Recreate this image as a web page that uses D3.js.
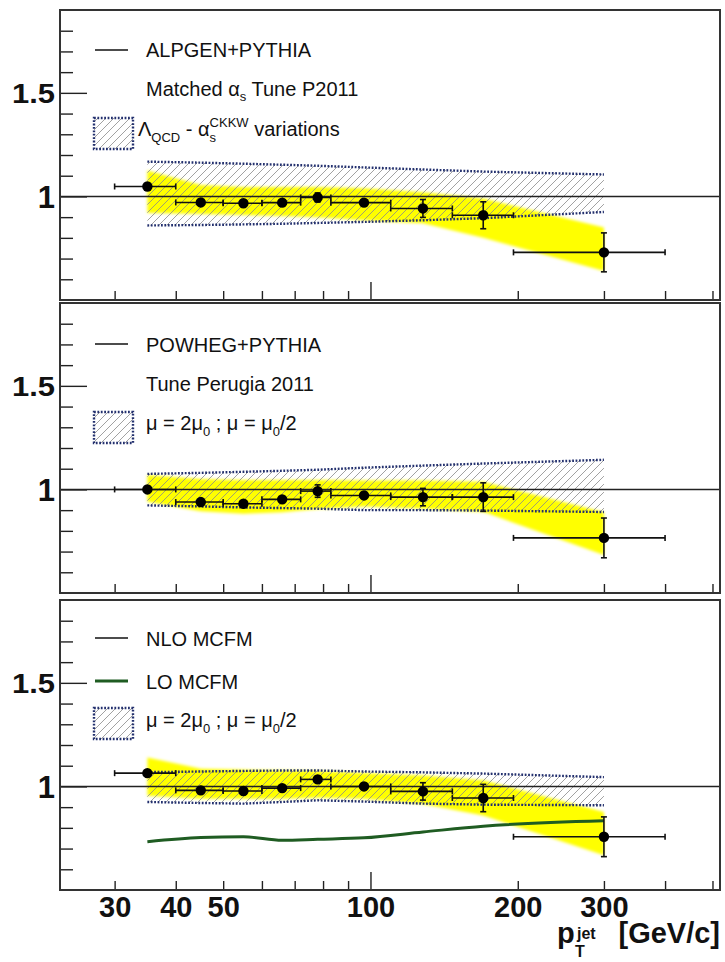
<!DOCTYPE html>
<html>
<head>
<meta charset="utf-8">
<script src="https://cdn.jsdelivr.net/npm/d3@7/dist/d3.min.js"></script>
<style>
  body { margin: 0; background: #fff; }
  svg { display: block; font-family: "Liberation Sans", Arial, sans-serif; }
</style>
</head>
<body>
<svg id="chart"></svg>
<script>
// bins in pT (GeV/c)
const ptCenter = [35, 45, 55, 66, 78, 97, 128, 170, 300];
const ptLow    = [30, 40, 50, 60, 72, 83, 110, 147, 196];
const ptHigh   = [40, 50, 60, 72, 83, 110, 147, 196, 400];

// ALPGEN+PYTHIA panel
const alpRatio   = [1.048, 0.971, 0.967, 0.970, 0.995, 0.970, 0.942, 0.909, 0.730];
const alpErr     = [0.010, 0.010, 0.010, 0.012, 0.022, 0.014, 0.043, 0.065, 0.094];
const alpBandUp  = [1.125, 1.055, 1.045, 1.045, 1.045, 1.040, 1.020, 0.990, 0.850];
const alpBandLo  = [0.920, 0.915, 0.910, 0.905, 0.900, 0.885, 0.870, 0.800, 0.640];
const alpHatchUp = [1.168, 1.163, 1.158, 1.153, 1.148, 1.140, 1.130, 1.120, 1.106];
const alpHatchLo = [0.860, 0.862, 0.865, 0.868, 0.872, 0.877, 0.885, 0.895, 0.925];

// POWHEG+PYTHIA panel
const powRatio   = [1.000, 0.939, 0.931, 0.952, 0.992, 0.971, 0.963, 0.963, 0.766];
const powErr     = [0.010, 0.010, 0.010, 0.010, 0.030, 0.015, 0.042, 0.069, 0.096];
const powBandUp  = [1.070, 1.050, 1.045, 1.045, 1.045, 1.043, 1.043, 1.037, 0.890];
const powBandLo  = [0.940, 0.895, 0.883, 0.890, 0.905, 0.917, 0.907, 0.892, 0.683];
const powHatchUp = [1.075, 1.080, 1.085, 1.090, 1.095, 1.105, 1.115, 1.125, 1.143];
const powHatchLo = [0.923, 0.918, 0.913, 0.910, 0.907, 0.900, 0.900, 0.898, 0.891];

// MCFM panel
const mcfRatio   = [1.064, 0.981, 0.978, 0.992, 1.034, 1.000, 0.976, 0.944, 0.757];
const mcfErr     = [0.010, 0.010, 0.010, 0.010, 0.015, 0.015, 0.042, 0.066, 0.096];
const mcfBandUp  = [1.140, 1.085, 1.080, 1.077, 1.075, 1.065, 1.053, 1.030, 0.877];
const mcfBandLo  = [0.955, 0.940, 0.940, 0.940, 0.945, 0.940, 0.915, 0.860, 0.668];
const mcfHatchUp = [1.069, 1.072, 1.075, 1.077, 1.077, 1.072, 1.068, 1.062, 1.045];
const mcfHatchLo = [0.925, 0.920, 0.917, 0.925, 0.933, 0.927, 0.917, 0.912, 0.909];
const mcfLO      = [0.733, 0.753, 0.757, 0.740, 0.745, 0.752, 0.780, 0.808, 0.834];

// axis ticks
const xMinorTicks = [30, 40, 50, 60, 70, 80, 90, 200, 300, 400, 500];
const xMajorTicks = [100];
const xTickLabels = [30, 40, 50, 100, 200, 300];
const yMinorTicks = [0.6, 0.7, 0.8, 0.9, 1.1, 1.2, 1.3, 1.4, 1.6, 1.7, 1.8];
const yMajorTicks = [1, 1.5];

const width = 725, height = 962;
const left = 60, right = 720;
const panelTops = [10, 303, 600];
const panelH = 290;

const svg = d3.select("#chart").attr("width", width).attr("height", height);

const x = d3.scaleLog().domain([23.2, 518]).range([left, right]);

// defs: hatch pattern + blur
const defs = svg.append("defs");
const pat = defs.append("pattern")
    .attr("id", "hatch")
    .attr("patternUnits", "userSpaceOnUse")
    .attr("width", 8).attr("height", 8);
pat.append("path")
    .attr("d", "M-2,2 L2,-2 M0,8 L8,0 M6,10 L10,6")
    .attr("stroke", "#8a8a8a").attr("stroke-width", 0.8);
defs.append("filter").attr("id", "soft")
    .attr("x", "-5%").attr("y", "-20%").attr("width", "110%").attr("height", "140%")
  .append("feGaussianBlur").attr("stdDeviation", 1.6);

const panels = [
  { ratio: alpRatio, err: alpErr, bandUp: alpBandUp, bandLo: alpBandLo, hatchUp: alpHatchUp, hatchLo: alpHatchLo },
  { ratio: powRatio, err: powErr, bandUp: powBandUp, bandLo: powBandLo, hatchUp: powHatchUp, hatchLo: powHatchLo },
  { ratio: mcfRatio, err: mcfErr, bandUp: mcfBandUp, bandLo: mcfBandLo, hatchUp: mcfHatchUp, hatchLo: mcfHatchLo, lo: mcfLO }
];

const dotBlue = "#23306e";

panels.forEach((p, i) => {
  const top = panelTops[i], bottom = top + panelH;
  const y = d3.scaleLinear().domain([0.5, 1.9]).range([bottom, top]);
  const g = svg.append("g");

  g.append("clipPath").attr("id", "clip" + i)
    .append("rect").attr("x", left).attr("y", top).attr("width", right - left).attr("height", panelH);
  const plot = g.append("g").attr("clip-path", `url(#clip${i})`);

  const idx = d3.range(ptCenter.length);

  // yellow band
  plot.append("path")
    .datum(idx)
    .attr("d", d3.area().x(k => x(ptCenter[k])).y0(k => y(p.bandLo[k])).y1(k => y(p.bandUp[k])))
    .attr("fill", "#ffff00")
    .attr("filter", "url(#soft)");

  // hatched variation band
  plot.append("path")
    .datum(idx)
    .attr("d", d3.area().x(k => x(ptCenter[k])).y0(k => y(p.hatchLo[k])).y1(k => y(p.hatchUp[k])))
    .attr("fill", "url(#hatch)");
  [p.hatchUp, p.hatchLo].forEach(arr => {
    plot.append("path")
      .datum(idx)
      .attr("d", d3.line().x(k => x(ptCenter[k])).y(k => y(arr[k])))
      .attr("fill", "none")
      .attr("stroke", dotBlue)
      .attr("stroke-width", 2.4)
      .attr("stroke-dasharray", "1.8,1.6");
  });

  // reference line at 1
  plot.append("line")
    .attr("x1", left).attr("x2", right)
    .attr("y1", y(1)).attr("y2", y(1))
    .attr("stroke", "#222").attr("stroke-width", 1.6);

  // LO MCFM line
  if (p.lo) {
    plot.append("path")
      .datum(idx)
      .attr("d", d3.line().x(k => x(ptCenter[k])).y(k => y(p.lo[k])).curve(d3.curveMonotoneX))
      .attr("fill", "none")
      .attr("stroke", "#1f5c22")
      .attr("stroke-width", 3);
  }

  // data points with error bars
  const pts = plot.selectAll(".pt").data(idx).enter().append("g").attr("class", "pt");
  const line = (sel, x1, y1, x2, y2) => sel.append("line")
    .attr("x1", x1).attr("y1", y1).attr("x2", x2).attr("y2", y2)
    .attr("stroke", "#111").attr("stroke-width", 1.6);
  pts.each(function(k) {
    const s = d3.select(this);
    const cx = x(ptCenter[k]), cy = y(p.ratio[k]);
    const xl = x(ptLow[k]), xh = x(ptHigh[k]);
    const yu = y(p.ratio[k] + p.err[k]), yd = y(p.ratio[k] - p.err[k]);
    line(s, xl, cy, xh, cy);
    line(s, xl, cy - 3, xl, cy + 3);
    line(s, xh, cy - 3, xh, cy + 3);
    line(s, cx, yu, cx, yd);
    line(s, cx - 3, yu, cx + 3, yu);
    line(s, cx - 3, yd, cx + 3, yd);
    s.append("circle").attr("cx", cx).attr("cy", cy).attr("r", 5.2).attr("fill", "#000");
  });

  // ticks (inward)
  const clean = sel => { sel.select(".domain").remove(); sel.selectAll("line").attr("stroke", "#222").attr("stroke-width", 1.4); };
  g.append("g").attr("transform", `translate(0,${bottom})`)
    .call(d3.axisBottom(x).tickValues(xMinorTicks).tickSizeInner(-9).tickSizeOuter(0).tickFormat(""))
    .call(clean);
  g.append("g").attr("transform", `translate(0,${bottom})`)
    .call(d3.axisBottom(x).tickValues(xMajorTicks).tickSizeInner(-18).tickSizeOuter(0).tickFormat(""))
    .call(clean);
  g.append("g").attr("transform", `translate(${left},0)`)
    .call(d3.axisLeft(y).tickValues(yMinorTicks).tickSizeInner(-13).tickSizeOuter(0).tickFormat(""))
    .call(clean);
  g.append("g").attr("transform", `translate(${left},0)`)
    .call(d3.axisLeft(y).tickValues(yMajorTicks).tickSizeInner(-27).tickSizeOuter(0).tickFormat(""))
    .call(clean);

  // y tick labels
  const yl = g.append("g").attr("transform", `translate(${left},0)`)
    .call(d3.axisLeft(y).tickValues(yMajorTicks).tickSize(0).tickPadding(5).tickFormat(d3.format("")));
  yl.select(".domain").remove();
  yl.selectAll("text")
    .attr("fill", "#111")
    .attr("font-family", "Liberation Sans, Arial, sans-serif")
    .attr("font-weight", "bold")
    .attr("font-size", d => d === 1 ? 31 : 27)
    .attr("dy", "0.36em")
    .each(function(d) { if (d === 1.5) d3.select(this).attr("textLength", 43).attr("lengthAdjust", "spacingAndGlyphs"); });

  // frame
  g.append("rect")
    .attr("x", left).attr("y", top).attr("width", right - left).attr("height", panelH)
    .attr("fill", "none").attr("stroke", "#333").attr("stroke-width", 2);

  // x tick labels on the last panel only
  if (i === panels.length - 1) {
    const xl = g.append("g").attr("transform", `translate(0,${bottom})`)
      .call(d3.axisBottom(x).tickValues(xTickLabels).tickSize(0).tickFormat(d3.format("d")));
    xl.select(".domain").remove();
    xl.selectAll("text")
      .attr("y", 27).attr("dy", 0)
      .attr("fill", "#111")
      .attr("font-family", "Liberation Sans, Arial, sans-serif")
      .attr("font-weight", "bold")
      .attr("font-size", 29);
  }
});

// legends
const fs = 20;
const txt = (xp, yp) => svg.append("text").attr("x", xp).attr("y", yp)
  .attr("font-size", fs).attr("fill", "#111");
const legLine = (yp, color, w) => svg.append("line")
  .attr("x1", 95).attr("x2", 128).attr("y1", yp).attr("y2", yp)
  .attr("stroke", color).attr("stroke-width", w);
const legBox = (yp) => {
  svg.append("rect").attr("x", 94).attr("y", yp).attr("width", 39).attr("height", 31)
    .attr("fill", "url(#hatch)")
    .attr("stroke", dotBlue).attr("stroke-width", 2.4).attr("stroke-dasharray", "1.8,1.6");
};
const muText = (yp) => {
  const t = txt(146, yp);
  t.append("tspan").text("\u03bc = 2\u03bc");
  t.append("tspan").attr("font-size", 13).attr("dy", 6).text("0");
  t.append("tspan").attr("dy", -6).text(" ; \u03bc = \u03bc");
  t.append("tspan").attr("font-size", 13).attr("dy", 6).text("0");
  t.append("tspan").attr("dy", -6).text("/2");
};

// panel 1
legLine(50, "#111", 1.6);
txt(146, 57).text("ALPGEN+PYTHIA");
{
  const t = txt(146, 96);
  t.append("tspan").text("Matched \u03b1");
  t.append("tspan").attr("font-size", 13).attr("dy", 5).text("s");
  t.append("tspan").attr("dy", -5).text(" Tune P2011");
}
legBox(118);
{
  const t = txt(138, 136);
  t.append("tspan").text("\u039b");
  t.append("tspan").attr("font-size", 13).attr("dy", 6).text("QCD");
  t.append("tspan").attr("dy", -6).text(" - \u03b1");
  t.append("tspan").attr("font-size", 13).attr("dy", 6).text("s");
  t.append("tspan").attr("font-size", 13).attr("dx", -6.5).attr("dy", -15).text("CKKW");
  t.append("tspan").attr("dy", 9).text(" variations");
}

// panel 2
legLine(344, "#111", 1.6);
txt(146, 352).text("POWHEG+PYTHIA");
txt(146, 391).text("Tune Perugia 2011");
legBox(412);
muText(430);

// panel 3
legLine(638, "#111", 1.6);
txt(146, 646).text("NLO MCFM");
legLine(681, "#1f5c22", 3);
txt(146, 689).text("LO MCFM");
legBox(708);
muText(727);

// x axis title: p_T^jet [GeV/c]
const title = (xp, yp, size, anchor, s) => svg.append("text")
  .attr("x", xp).attr("y", yp)
  .attr("text-anchor", anchor)
  .attr("font-size", size).attr("font-weight", "bold").attr("fill", "#111")
  .text(s);
title(557, 943, 29, "start", "p");
title(575, 957, 16, "start", "T");
title(577, 939, 16, "start", "jet");
title(720, 943, 29, "end", "[GeV/c]");
</script>
</body>
</html>
